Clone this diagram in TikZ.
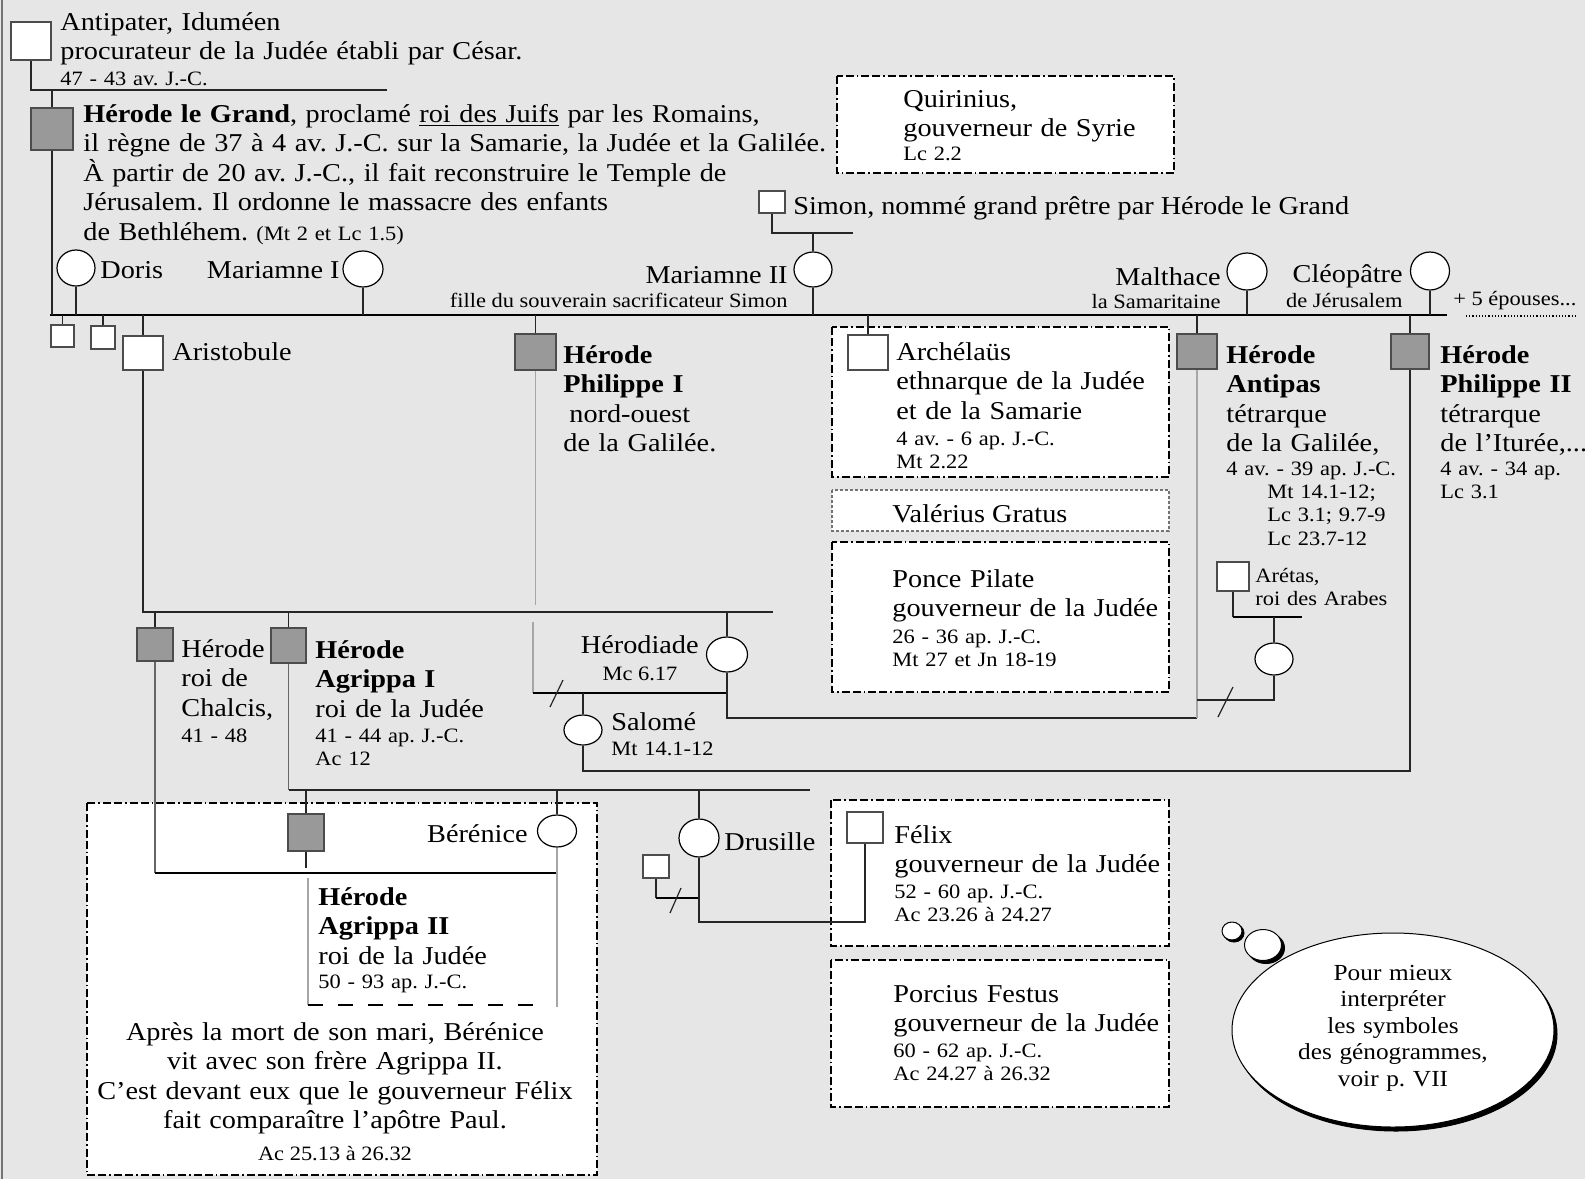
\documentclass[tikz,border=0pt]{standalone}
\usepackage{fontspec}
\setmainfont{Liberation Serif}[FakeStretch=1.10]
\usetikzlibrary{shapes.geometric}
\definecolor{fond}{RGB}{230,230,230}
\frenchspacing
\newcommand\grand{\fontsize{12.85pt}{14.75pt}\selectfont}
\newcommand\petit{\fontsize{10.2pt}{11.7pt}\selectfont}
\newcommand\moyen{\fontsize{11.5pt}{13.3pt}\selectfont}
\tikzset{
  homme/.style 2 args={rectangle,draw=black!70,fill=white,line width=0.6pt,inner sep=0pt,minimum width=#1,minimum height=#2},
  roi/.style 2 args={homme={#1}{#2},fill=black!40},
  femme/.style 2 args={ellipse,draw=black,fill=white,line width=0.6pt,inner sep=0pt,minimum width=#1,minimum height=#2},
  lien/.style={draw=black!85,line width=0.6pt},
  union/.style={draw=black,line width=1pt},
  gris/.style={draw=black!35,line width=0.6pt},
  gris2/.style={draw=black!60,line width=0.6pt},
  cadre/.style={draw=black,fill=white,line width=1pt,dash pattern=on 4pt off 1.5pt on 4pt off 1.5pt on 0.8pt off 1.5pt},
  cadre2/.style={draw=black!55,fill=white,line width=0.6pt,dash pattern=on 1.5pt off 1pt},
  tirets/.style={draw=black,line width=1pt,dash pattern=on 7.5pt off 7.5pt},
  txt/.style={anchor=base west,inner sep=0pt,font=\grand},
  txtd/.style={anchor=base east,inner sep=0pt,font=\grand},
  bloc/.style={anchor=base west,inner sep=0pt,font=\grand,text width=#1,align=left},
  bloc/.default=260pt,
  ref/.style={bloc,font=\petit},
  bulle/.style={ellipse,draw=black,fill=white,line width=0.5pt,inner sep=0pt}
}
\begin{document}
\begin{tikzpicture}[x=0.5pt,y=-0.5pt]
\useasboundingbox (0,0) rectangle (1585,1179);
\fill[fond] (0,0) rectangle (1585,1179);
\draw[black!55,line width=1pt] (1.5,0) -- (1.5,1179);

\draw[cadre] (837,76) rectangle (1174,173);
\draw[cadre] (832,327) rectangle (1169,477);
\draw[cadre2] (832,490) rectangle (1169,531);
\draw[cadre] (832,542) rectangle (1169,692);
\draw[cadre] (831,800) rectangle (1169,946);
\draw[cadre] (831,960) rectangle (1169,1107);
\draw[cadre] (87,803) rectangle (597,1175);

\node[homme={20pt}{19pt}] (antipater) at (31,41) {};
\node[roi={21pt}{21pt}] (herode) at (52,129) {};
\node[femme={19pt}{18pt}] (doris) at (76,268) {};
\node[femme={20pt}{18pt}] (mariamneA) at (363,269) {};
\node[homme={13pt}{11pt}] (simon) at (772,202) {};
\node[femme={19pt}{17.5pt}] (mariamneB) at (813,269.5) {};
\node[femme={20pt}{18.5pt}] (malthace) at (1247,271.5) {};
\node[femme={19.5pt}{19pt}] (cleopatre) at (1430,271) {};
\node[homme={11.5pt}{11pt}] (fils1) at (62.5,336) {};
\node[homme={12pt}{11.5pt}] (fils2) at (103,337.5) {};
\node[homme={20pt}{17pt}] (aristobule) at (143,353) {};
\node[roi={20.5pt}{18pt}] (philippeA) at (535.5,352) {};
\node[homme={20pt}{17.5pt}] (archelaus) at (868,352.5) {};
\node[roi={20pt}{17.5pt}] (antipas) at (1197,351.5) {};
\node[roi={19pt}{17.5pt}] (philippeB) at (1410,351.5) {};
\node[roi={18pt}{16.5pt}] (chalcis) at (155,644.5) {};
\node[roi={17.5pt}{17.5pt}] (agrippaA) at (288.5,645.5) {};
\node[femme={20.5pt}{17.5pt}] (herodiade) at (727,654.5) {};
\node[femme={19pt}{15pt}] (salome) at (583,730) {};
\node[homme={16pt}{14.5pt}] (aretas) at (1233,576.5) {};
\node[femme={19pt}{16pt}] (fille) at (1274,659) {};
\node[roi={18pt}{18.5pt}] (agrippaB) at (306,832.5) {};
\node[femme={19.5pt}{16pt}] (berenice) at (557,831) {};
\node[femme={20pt}{19pt}] (drusille) at (699,838) {};
\node[homme={13pt}{11.5pt}] (azizus) at (656,866.5) {};
\node[homme={18pt}{15.5pt}] (felix) at (865,827.5) {};

\coordinate (gA) at (387,90);
\draw[lien] (antipater.south) |- (gA);
\draw[lien] (herode.north) -- (herode.north |- gA);

\coordinate (mA) at (50,315);
\coordinate (mB) at (1447,315);
\draw[union] (mA) -- (mB);
\draw[lien] (herode.south) -- (herode.south |- mA);
\foreach \f in {doris,mariamneA,mariamneB,malthace,cleopatre}
  \draw[lien] (\f.south) -- (\f.south |- mA);
\foreach \e in {fils1,fils2,aristobule,philippeA,archelaus,antipas,philippeB}
  \draw[lien] (\e.north) -- (\e.north |- mA);
\coordinate (eA) at (1466,316);
\coordinate (eB) at (1577,316);
\draw[densely dotted,line width=0.6pt] (eA) -- (eB);

\coordinate (sA) at (853,233);
\draw[lien] (simon.south) |- (sA);
\draw[lien] (mariamneB.north) -- (mariamneB.north |- sA);

\coordinate (aA) at (773,612);
\draw[lien] (aristobule.south) |- (aA);
\foreach \e in {chalcis,agrippaA,herodiade}
  \draw[lien] (\e.north) -- (\e.north |- aA);

\coordinate (pA) at (535.5,605);
\coordinate (pB) at (533,622);
\coordinate (pC) at (533,693);
\coordinate (hA) at (1197,718);
\draw[gris] (philippeA.south) -- (pA);
\draw[gris] (pB) -- (pC);
\draw[union] (pC) -- (herodiade.south |- pC);
\draw[lien] (pC) ++(17,14) -- ++(13,-27);
\draw[lien] (herodiade.south) |- (hA);
\draw[gris] (antipas.south) -- (hA);
\draw[lien] (salome.north) -- (salome.north |- pC);
\coordinate (sB) at (1410,771);
\draw[lien] (salome.south) |- (sB) -- (philippeB.south);

\coordinate (rA) at (1302,617);
\coordinate (rB) at (1197,700);
\draw[lien] (aretas.south) -- (aretas.south |- rA);
\draw[union] (aretas.south |- rA) -- (rA);
\draw[lien] (fille.north) -- (fille.north |- rA);
\draw[lien] (fille.south) |- (rB);
\draw[lien] (rB) ++(21,17) -- ++(15,-30);

\coordinate (gB) at (810,790);
\draw[gris2] (agrippaA.south) -- (agrippaA.south |- gB);
\draw[lien] (agrippaA.south |- gB) -- (gB);
\foreach \e in {agrippaB,berenice,drusille}
  \draw[lien] (\e.north) -- (\e.north |- gB);

\coordinate (cA) at (155,873);
\coordinate (bA) at (557,1007);
\draw[gris2] (chalcis.south) -- (cA);
\draw[union] (cA) -- (berenice.south |- cA);
\draw[gris] (berenice.south) -- (bA);
\draw[lien] (agrippaB.south) -- ++(0,16);
\coordinate (bB) at (308,878);
\coordinate (bC) at (308,1005);
\coordinate (bD) at (548,1005);
\draw[gris] (bB) -- (bC);
\draw[tirets] (bC) -- (bD);

\coordinate (dA) at (699,898);
\coordinate (dB) at (865,922);
\draw[lien] (azizus.south) -- (azizus.south |- dA);
\draw[union] (azizus.south |- dA) -- (dA);
\draw[lien] (dA) ++(-29,15) -- ++(11,-25);
\draw[lien] (drusille.south) |- (dB) -- (felix.south);

\node[bloc] (tAntipater) at (60,30) {Antipater, Iduméen\\procurateur de la Judée établi par César.};
\node[ref] (rAntipater) at (60,85) {47 - 43 av. J.-C.};
\node[bloc=400pt] (tHerode) at (83,122) {\textbf{Hérode le Grand}, proclamé \underline{roi des Juifs} par les Romains,\\il règne de 37 à 4 av. J.-C. sur la Samarie, la Judée et la Galilée.\\À partir de 20 av. J.-C., il fait reconstruire le Temple de\\Jérusalem. Il ordonne le massacre des enfants\\de Bethléhem.};
\node[ref] (rHerode) at (256,240) {(Mt 2 et Lc 1.5)};
\node[txt] (tDoris) at (100,278) {Doris};
\node[txtd] (tMariamneA) at (340,278) {Mariamne I};
\node[txtd] (tMariamneB) at (788,283) {Mariamne II};
\node[txtd,font=\petit] (tFille) at (788,307) {fille du souverain sacrificateur Simon};
\node[txt] (tSimon) at (793,214) {Simon, nommé grand prêtre par Hérode le Grand};
\node[bloc] (tQuirinius) at (903,107) {Quirinius,\\gouverneur de Syrie};
\node[ref] (rQuirinius) at (903,160) {Lc 2.2};
\node[txtd] (tMalthace) at (1221,285) {Malthace};
\node[txtd,font=\petit] (tSamarit) at (1221,308) {la Samaritaine};
\node[txtd] (tCleopatre) at (1403,282) {Cléopâtre};
\node[txtd,font=\petit] (tJerusalem) at (1403,307) {de Jérusalem};
\node[txt,font=\petit] (tEpouses) at (1453,305) {+ 5 épouses...};
\node[txt] (tAristobule) at (172,360) {Aristobule};
\node[bloc] (tPhilippeA) at (563,363) {\textbf{Hérode}\\\textbf{Philippe I}\\\hspace*{3pt}nord-ouest\\de la Galilée.};
\node[bloc] (tArchelaus) at (896,360) {Archélaüs\\ethnarque de la Judée\\et de la Samarie};
\node[ref] (rArchelaus) at (896,445) {4 av. - 6 ap. J.-C.\\Mt 2.22};
\node[txt] (tGratus) at (892,522) {Valérius Gratus};
\node[bloc] (tPilate) at (892,587) {Ponce Pilate\\gouverneur de la Judée};
\node[ref] (rPilate) at (892,643) {26 - 36 ap. J.-C.\\Mt 27 et Jn 18-19};
\node[bloc] (tAntipas) at (1226,363) {\textbf{Hérode}\\\textbf{Antipas}\\tétrarque\\de la Galilée,};
\node[ref] (rAntipas) at (1226,475) {4 av. - 39 ap. J.-C.\\\hspace*{20.5pt}Mt 14.1-12;\\\hspace*{20.5pt}Lc 3.1; 9.7-9\\\hspace*{20.5pt}Lc 23.7-12};
\node[bloc] (tPhilippeB) at (1440,363) {\textbf{Hérode}\\\textbf{Philippe II}\\tétrarque\\de l’Iturée,...};
\node[ref] (rPhilippeB) at (1440,475) {4 av. - 34 ap.\\Lc 3.1};
\node[bloc] (tChalcis) at (181,657) {Hérode\\roi de\\Chalcis,};
\node[ref] (rChalcis) at (181,742) {41 - 48};
\node[bloc] (tAgrippaA) at (315,658) {\textbf{Hérode}\\\textbf{Agrippa I}\\roi de la Judée};
\node[ref] (rAgrippaA) at (315,742) {41 - 44 ap. J.-C.\\Ac 12};
\node[txtd] (tHerodiade) at (699,653) {Hérodiade};
\node[anchor=base,inner sep=0pt,font=\petit] (rHerodiade) at (640,680) {Mc 6.17};
\node[txt] (tSalome) at (611,730) {Salomé};
\node[ref] (rSalome) at (611,755) {Mt 14.1-12};
\node[ref] (tAretas) at (1255,582) {Arétas,\\roi des Arabes};
\node[txtd] (tBerenice) at (528,842) {Bérénice};
\node[bloc] (tAgrippaB) at (318,905) {\textbf{Hérode}\\\textbf{Agrippa II}\\roi de la Judée};
\node[ref] (rAgrippaB) at (318,988) {50 - 93 ap. J.-C.};
\node[anchor=base,inner sep=0pt,font=\grand,text width=260pt,align=center] (tPaul) at (335,1040) {Après la mort de son mari, Bérénice\\vit avec son frère Agrippa II.\\C’est devant eux que le gouverneur Félix\\fait comparaître l’apôtre Paul.};
\node[anchor=base,inner sep=0pt,font=\petit] (rPaul) at (335,1160) {Ac 25.13 à 26.32};
\node[txt] (tDrusille) at (724,850) {Drusille};
\node[bloc] (tFelix) at (894,843) {Félix\\gouverneur de la Judée};
\node[ref] (rFelix) at (894,898) {52 - 60 ap. J.-C.\\Ac 23.26 à 24.27};
\node[bloc] (tFestus) at (893,1002) {Porcius Festus\\gouverneur de la Judée};
\node[ref] (rFestus) at (893,1057) {60 - 62 ap. J.-C.\\Ac 24.27 à 26.32};

\node[bulle,fill=black,minimum width=161pt,minimum height=97pt] (ombre) at (1396,1034) {};
\node[bulle,minimum width=161pt,minimum height=97pt] (nuage) at (1393,1030) {};
\node[bulle,fill=black,minimum width=10pt,minimum height=9pt] (ombreA) at (1234,933) {};
\node[bulle,minimum width=10pt,minimum height=9pt] (rondA) at (1232,931) {};
\node[bulle,fill=black,minimum width=18.5pt,minimum height=15.5pt] (ombreB) at (1266,948) {};
\node[bulle,minimum width=18.5pt,minimum height=15.5pt] (rondB) at (1263,945) {};
\node[anchor=base,inner sep=0pt,font=\moyen,text width=150pt,align=center] (conseil) at (1393,980) {Pour mieux\\interpréter\\les symboles\\des génogrammes,\\voir p. VII};
\end{tikzpicture}
\end{document}
